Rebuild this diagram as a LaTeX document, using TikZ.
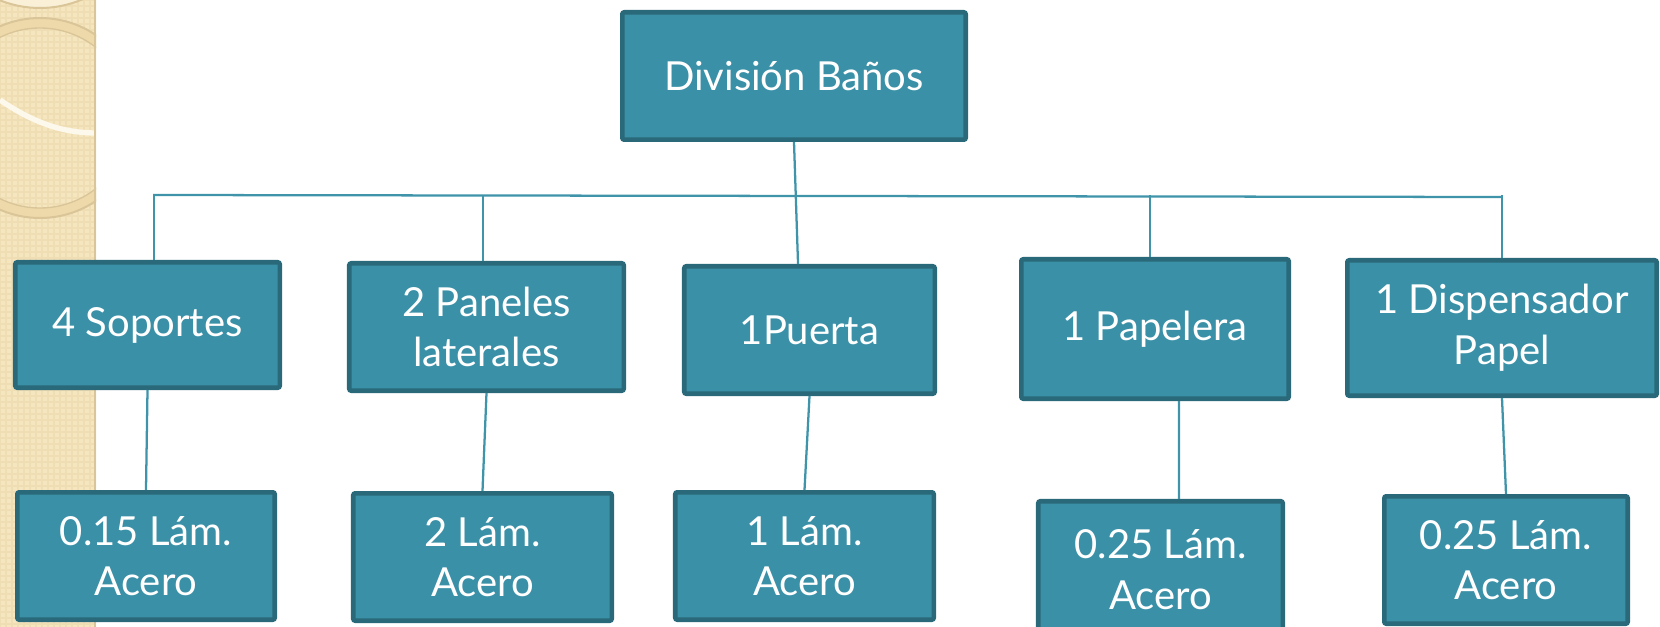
\documentclass[tikz,border=0pt]{standalone}
\usepackage{fontspec}
\setmainfont{Lato}
\definecolor{boxfill}{HTML}{3A90A7}
\definecolor{boxline}{HTML}{2A6979}
\definecolor{linkcol}{HTML}{3F94AA}
\definecolor{strip}{HTML}{F6E6BF}
\definecolor{stripgrid}{HTML}{EFDDB4}
\definecolor{ringcol}{HTML}{D9C597}
\definecolor{ringband}{HTML}{EDD9AA}
\tikzset{
  box/.style={draw=boxline, fill=boxfill, line width=3.4pt, rounded corners=1.5pt,
    text=white, align=center, inner sep=0pt, font=\fontsize{30}{38}\selectfont},
  link/.style={draw=linkcol, line width=1.7pt}
}
\begin{document}
\begin{tikzpicture}[x=0.75pt, y=-0.75pt]

\useasboundingbox (0,0) rectangle (1660,627);

% side strip
\begin{scope}
\clip (0,0) rectangle (96,627);
\fill[strip] (0,0) rectangle (96,627);
\draw[stripgrid, line width=0.8pt, step=4.5pt] (0,0) grid (96,627);
\fill[ringband, even odd rule] (40,118) circle (100) (40,118) circle (90);
\draw[ringcol, line width=1.5pt] (40,118) circle (100);
\draw[ringcol, line width=1pt] (40,118) circle (90);
\fill[white!40!strip] (40,-100) circle (108);
\draw[ringcol, line width=1.5pt] (40,-100) circle (108);
\draw[white!70!strip, line width=4pt] (0,100) .. controls (35,124) and (65,133) .. (96,133);
\draw[ringcol, line width=1.5pt] (95,0) -- (95,627);
\end{scope}

\node[box, minimum width=257.6pt, minimum height=95.6pt] (banos) at (794,76) {División Baños};

\node[box, minimum width=198.4pt, minimum height=94.1pt] (soportes) at (147.5,325) {4 Soportes};
\node[box, minimum width=205.9pt, minimum height=95.6pt] (paneles) at (486.5,327) {2 Paneles\\laterales};
\node[box, minimum width=187.9pt, minimum height=95.6pt] (puerta) at (809.5,330) {1Puerta};
\node[box, minimum width=200.6pt, minimum height=104.6pt] (papelera) at (1155,329) {1 Papelera};
\node[box, minimum width=232.1pt, minimum height=101.6pt] (dispensador) at (1502,328) {1 Dispensador\\Papel};

\node[box, minimum width=193.1pt, minimum height=95.6pt] (soportes2) at (146,556) {0.15 Lám.\\Acero};
\node[box, minimum width=193.9pt, minimum height=95.6pt] (paneles2) at (482.5,557) {2 Lám.\\Acero};
\node[box, minimum width=193.9pt, minimum height=95.6pt] (puerta2) at (804.5,556) {1 Lám.\\Acero};
\node[box, minimum width=183.4pt, minimum height=102.4pt] (papelera2) at (1160.5,569.5) {0.25 Lám.\\Acero};
\node[box, minimum width=182.6pt, minimum height=95.6pt] (dispensador2) at (1506,560) {0.25 Lám.\\Acero};

% bus
\coordinate (busL) at (153,195);
\coordinate (busR) at (1502,197);
\draw[link] (busL) -- (busR);
\draw[link] (banos.south) -- ([xshift=-8.6pt]puerta.north);

\coordinate (soportesTop) at ([xshift=4.9pt]soportes.north);
\coordinate (panelesTop) at ([xshift=-2.6pt]paneles.north);
\coordinate (papeleraTop) at ([xshift=-3.75pt]papelera.north);
\coordinate (dispensadorTop) at (dispensador.north);
\foreach \n in {soportes,paneles,papelera,dispensador}
  \draw[link] (\n Top) -- (\n Top |- busL);

\foreach \n in {soportes,paneles,puerta,dispensador}
  \draw[link] (\n.south) -- (\n2.north);
\draw[link] ([xshift=18pt]papelera.south) -- ([xshift=13.9pt]papelera2.north);

\end{tikzpicture}
\end{document}
